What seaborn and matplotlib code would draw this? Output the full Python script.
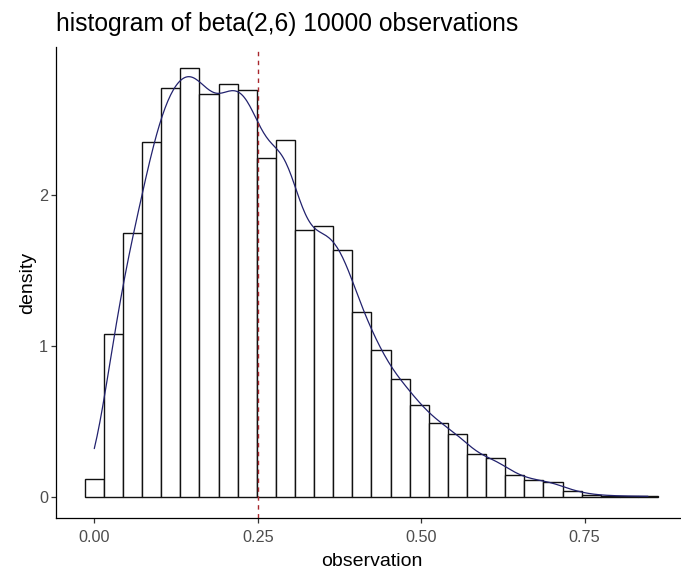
import numpy as np
import pandas as pd
import matplotlib
matplotlib.use("Agg")
import matplotlib.pyplot as plt
import seaborn as sns

# Histogram of 10000 draws from beta(2, 6): 30 bins, density scale
bin_centers = [0.000, 0.029, 0.058, 0.088, 0.117, 0.146, 0.175, 0.205, 0.234, 0.263,
               0.292, 0.321, 0.351, 0.380, 0.409, 0.438, 0.468, 0.497, 0.526, 0.555,
               0.584, 0.614, 0.643, 0.672, 0.701, 0.731, 0.760, 0.789, 0.818, 0.847]
bin_density = [0.117, 1.077, 1.751, 2.350, 2.712, 2.841, 2.668, 2.739, 2.695, 2.248,
               2.367, 1.767, 1.795, 1.638, 1.222, 0.975, 0.783, 0.610, 0.491, 0.418,
               0.283, 0.255, 0.146, 0.110, 0.100, 0.041, 0.014, 0.007, 0.0034, 0.0034]
reference_x = 0.25
x_ticks = [0.0, 0.25, 0.5, 0.75]
x_tick_labels = ["0.00", "0.25", "0.50", "0.75"]
y_ticks = [0, 1, 2]
y_tick_labels = ["0", "1", "2"]
title = "histogram of beta(2,6) 10000 observations"

df = pd.DataFrame({"observation": bin_centers, "density": bin_density})

sns.set_theme(style="white")
plt.rcParams["font.family"] = ["Liberation Sans", "DejaVu Sans"]

W, H = 681, 569
fig = plt.figure(figsize=(W / 100, H / 100), dpi=100)
fig.patch.set_facecolor("white")

# panel placement in pixels
left_px, right_px, top_px, bottom_px = 56.1, 686.6, 46.9, 518.1
ax = fig.add_axes([left_px / W, 1 - bottom_px / H,
                   (right_px - left_px) / W, (bottom_px - top_px) / H])
ax.set_facecolor("white")

centers = df["observation"].to_numpy()
width = np.diff(centers).mean()
edges = np.append(centers - width / 2, centers[-1] + width / 2)

sns.histplot(data=df, x="observation", weights="density", bins=list(edges),
             stat="count", color="white", edgecolor="#111111", linewidth=1.0,
             alpha=1.0, ax=ax)

# smoothed density of the same sample
w = df["density"].to_numpy()
mean = np.average(centers, weights=w)
sd = np.sqrt(np.average((centers - mean) ** 2, weights=w))
bandwidth = 0.0205
sns.kdeplot(data=df, x="observation", weights="density", bw_method=bandwidth / sd,
            cut=0, gridsize=400, color="#22226e", linewidth=0.9, ax=ax)

ax.axvline(reference_x, color="#a8262c", linewidth=1.0, linestyle=(0, (3.2, 3.2)))

ax.set_xlim(-0.0584, 0.906)
ax.set_ylim(-0.142, 2.983)
ax.set_xticks(x_ticks)
ax.set_xticklabels(x_tick_labels)
ax.set_yticks(y_ticks)
ax.set_yticklabels(y_tick_labels)

for side in ["top", "right"]:
    ax.spines[side].set_visible(False)
for side in ["left", "bottom"]:
    ax.spines[side].set_color("black")
    ax.spines[side].set_linewidth(0.9)

ax.tick_params(axis="both", which="major", length=3.8, width=0.9, color="#333333",
               labelcolor="#4d4d4d", labelsize=11.7, direction="out",
               bottom=True, left=True)
ax.tick_params(axis="x", pad=4.8)
ax.tick_params(axis="y", pad=2.0)

ax.set_xlabel("observation", fontsize=14, color="black")
ax.set_ylabel("density", fontsize=14, color="black")
ax.xaxis.set_label_coords(0.5, -0.074)
ax.yaxis.set_label_coords(-0.032, 0.5)

fig.text(left_px / W, 1 - 31 / H, title, fontsize=17.7, color="black",
         ha="left", va="baseline")

fig.savefig("out.png", dpi=100, facecolor="white")
